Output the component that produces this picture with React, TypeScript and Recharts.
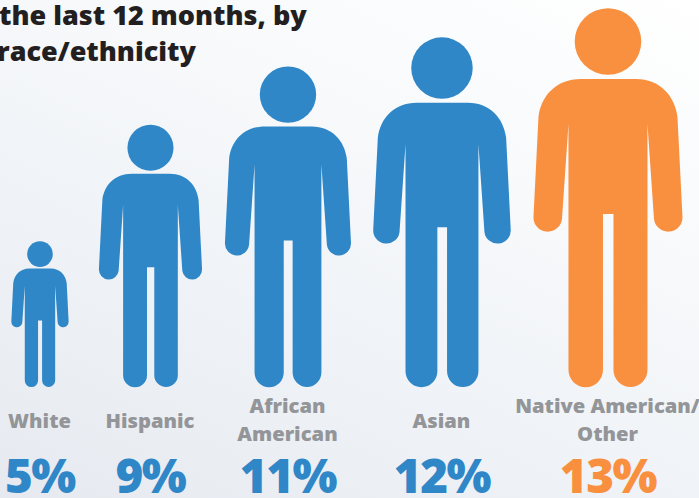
import React from 'react'
import { BarChart, Bar, XAxis, YAxis, LabelList } from 'recharts'

const categories = ['White', 'Hispanic', 'African American', 'Asian', 'Native American/ Other']
const shares = [5, 9, 11, 12, 13]
const labelLines = [['White'], ['Hispanic'], ['African', 'American'], ['Asian'], ['Native American/', 'Other']]
const titleLines = ['the last 12 months, by', 'race/ethnicity']

// slots along the x axis, wider figures get more room
const slots = [39.5, 150, 287.5, 441.5, 607.5]
const BLUE = '#2f87c7'
const ORANGE = '#f99040'
const colors = [BLUE, BLUE, BLUE, BLUE, ORANGE]

const rows = categories.map((name, i) => ({ name, share: shares[i], slot: slots[i] }))

const FONT = '"Open Sans", sans-serif'

// person outline, drawn in a box 379 tall with x = 0 on the centre line
const BODY =
  'M-27 71 L28 71 C52 71 67 88 69.5 109 L74.5 209 A14.3 14.3 0 0 1 46 211 L39.5 116 L39.5 362 ' +
  'A17 17 0 0 1 5.5 362 L5.5 206 L-5 206 L-5 362 A17 17 0 0 1 -39.5 362 L-39.5 116 L-46 211 ' +
  'A14.3 14.3 0 0 1 -74.5 209 L-69.5 109 C-67 88 -52 71 -27 71 Z'

const Person = (props: any) => {
  const { x, y, width, height, index } = props
  const k = height / 379
  return (
    <g transform={`translate(${x + width / 2} ${y}) scale(${k})`} fill={colors[index]}>
      <circle cx={0} cy={33.5} r={33.3} />
      <path d={BODY} />
    </g>
  )
}

const NameTick = (props: any) => {
  const { x, index } = props
  const lines = labelLines[index]
  const firstY = lines.length > 1 ? 413 : 428
  return (
    <text textAnchor="middle" fontFamily={FONT} fontWeight={800} fontSize={20.2} fill="#939598">
      {lines.map((line, i) => (
        <tspan key={line} x={x} y={firstY + i * 27.5}>
          {line}
        </tspan>
      ))}
    </text>
  )
}

const ShareLabel = (props: any) => {
  const { x, width, value, index } = props
  return (
    <text
      x={x + width / 2}
      y={493}
      textAnchor="middle"
      fontFamily={FONT}
      fontWeight={800}
      fontSize={47.5}
      letterSpacing={-1.5}
      fill={colors[index]}
    >
      {value}%
    </text>
  )
}

export default function App() {
  return (
    <div
      style={{
        position: 'fixed',
        left: 0,
        top: 0,
        width: 699,
        height: 498,
        overflow: 'hidden',
        background: 'linear-gradient(25deg, #e6e9ef 0%, #f0f3f7 40%, #f7f9fb 65%, #ffffff 100%)',
      }}
    >
      <BarChart width={699} height={498} data={rows} margin={{ top: 8, right: 0, bottom: 0, left: 0 }}>
        <XAxis
          type="number"
          dataKey="slot"
          domain={[0, 699]}
          ticks={slots}
          interval={0}
          height={111}
          axisLine={false}
          tickLine={false}
          tick={<NameTick />}
        />
        <YAxis hide domain={[0, 13]} />
        <Bar dataKey="share" barSize={150} shape={<Person />} isAnimationActive={false}>
          <LabelList dataKey="share" content={<ShareLabel />} />
        </Bar>
      </BarChart>
      {titleLines.map((line, i) => (
        <div
          key={line}
          style={{
            position: 'absolute',
            left: i === 0 ? -1 : -3,
            top: i * 36 - 3,
            fontFamily: FONT,
            fontWeight: 800,
            fontSize: 27,
            lineHeight: '36px',
            color: '#231f20',
            whiteSpace: 'nowrap',
          }}
        >
          {line}
        </div>
      ))}
    </div>
  )
}
